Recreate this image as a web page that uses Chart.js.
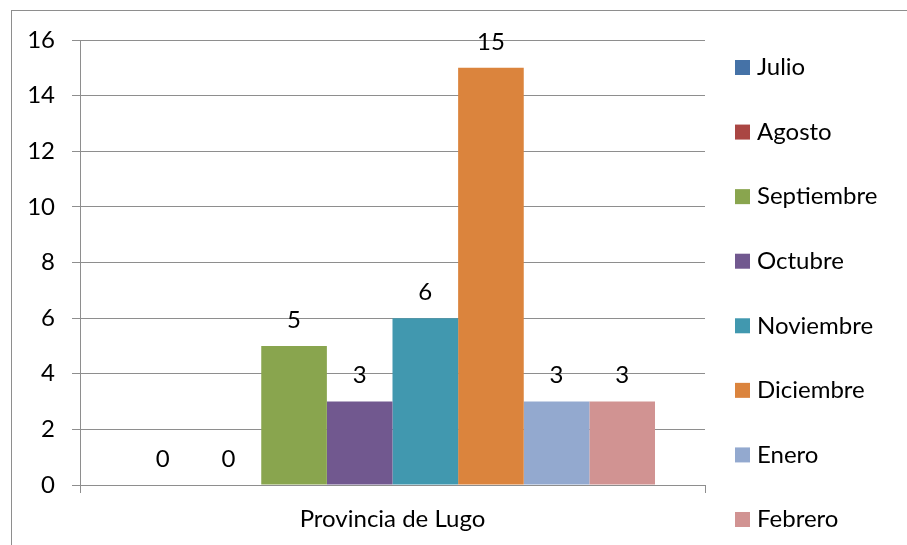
<!DOCTYPE html>
<html>
<head>
<meta charset="utf-8">
<script src="https://cdn.jsdelivr.net/npm/chart.js@4.4.1/dist/chart.umd.min.js"></script>
<style>
  html, body { margin: 0; padding: 0; background: #fff; }
</style>
</head>
<body>
<canvas id="lugoChart" width="907" height="545"></canvas>
<script>
const categories = ['Provincia de Lugo'];
const months = ['Julio', 'Agosto', 'Septiembre', 'Octubre', 'Noviembre', 'Diciembre', 'Enero', 'Febrero'];
const counts = [0, 0, 5, 3, 6, 15, 3, 3];
const monthColors = ['#4572A7', '#AA4643', '#89A54E', '#71588F', '#4198AF', '#DB843D', '#93A9CF', '#D19392'];

const FONT = 'Lato, "Noto Sans", sans-serif';
const FONT_SIZE = 24;
const lineGray = '#8e8e8e';

const datasets = months.map((m, i) => ({
  label: m,
  data: [counts[i]],
  backgroundColor: monthColors[i],
  borderWidth: 0,
  categoryPercentage: 0.84,
  barPercentage: 1,
}));

// white background + outer frame
const framePlugin = {
  id: 'frame',
  beforeDraw(chart) {
    const c = chart.ctx;
    c.save();
    c.fillStyle = '#fff';
    c.fillRect(0, 0, chart.width, chart.height);
    c.strokeStyle = lineGray;
    c.lineWidth = 1;
    c.strokeRect(11.5, 10.5, chart.width, chart.height);
    c.restore();
  }
};

// numbers above each bar
const valueLabels = {
  id: 'valueLabels',
  afterDatasetsDraw(chart) {
    const c = chart.ctx;
    c.save();
    c.fillStyle = '#000';
    c.font = FONT_SIZE + 'px ' + FONT;
    c.textAlign = 'center';
    c.textBaseline = 'middle';
    chart.data.datasets.forEach((ds, i) => {
      chart.getDatasetMeta(i).data.forEach((bar, j) => {
        c.fillText(String(ds.data[j]), bar.x, bar.y - 26);
      });
    });
    c.restore();
  }
};

// legend column on the right, evenly spread down the frame
const sideLegend = {
  id: 'sideLegend',
  afterDraw(chart) {
    const c = chart.ctx;
    c.save();
    c.font = FONT_SIZE + 'px ' + FONT;
    c.textBaseline = 'middle';
    chart.data.datasets.forEach((ds, i) => {
      const y = 67.5 + i * 64.57;
      c.fillStyle = ds.backgroundColor;
      c.fillRect(735, y - 7.5, 15, 15);
      c.fillStyle = '#000';
      c.fillText(ds.label, 757, y);
    });
    c.restore();
  }
};

new Chart(document.getElementById('lugoChart'), {
  type: 'bar',
  data: { labels: categories, datasets: datasets },
  options: {
    responsive: false,
    animation: false,
    layout: { padding: { left: 10, top: 40, right: 202, bottom: 0 } },
    plugins: {
      legend: { display: false },
      tooltip: { enabled: false },
    },
    scales: {
      x: {
        offset: true,
        grid: { drawOnChartArea: false, drawTicks: true, tickLength: 8, color: lineGray, offset: true },
        border: { color: lineGray },
        ticks: { color: '#000', font: { family: FONT, size: FONT_SIZE }, padding: 12 },
        afterFit: s => { s.height = 60; },
      },
      y: {
        min: 0,
        max: 16,
        ticks: { stepSize: 2, color: '#000', font: { family: FONT, size: FONT_SIZE }, padding: 17 },
        grid: { color: lineGray, tickLength: 8 },
        border: { color: lineGray },
        afterFit: s => { s.width = 70; },
      },
    },
  },
  plugins: [framePlugin, valueLabels, sideLegend],
});
</script>
</body>
</html>
